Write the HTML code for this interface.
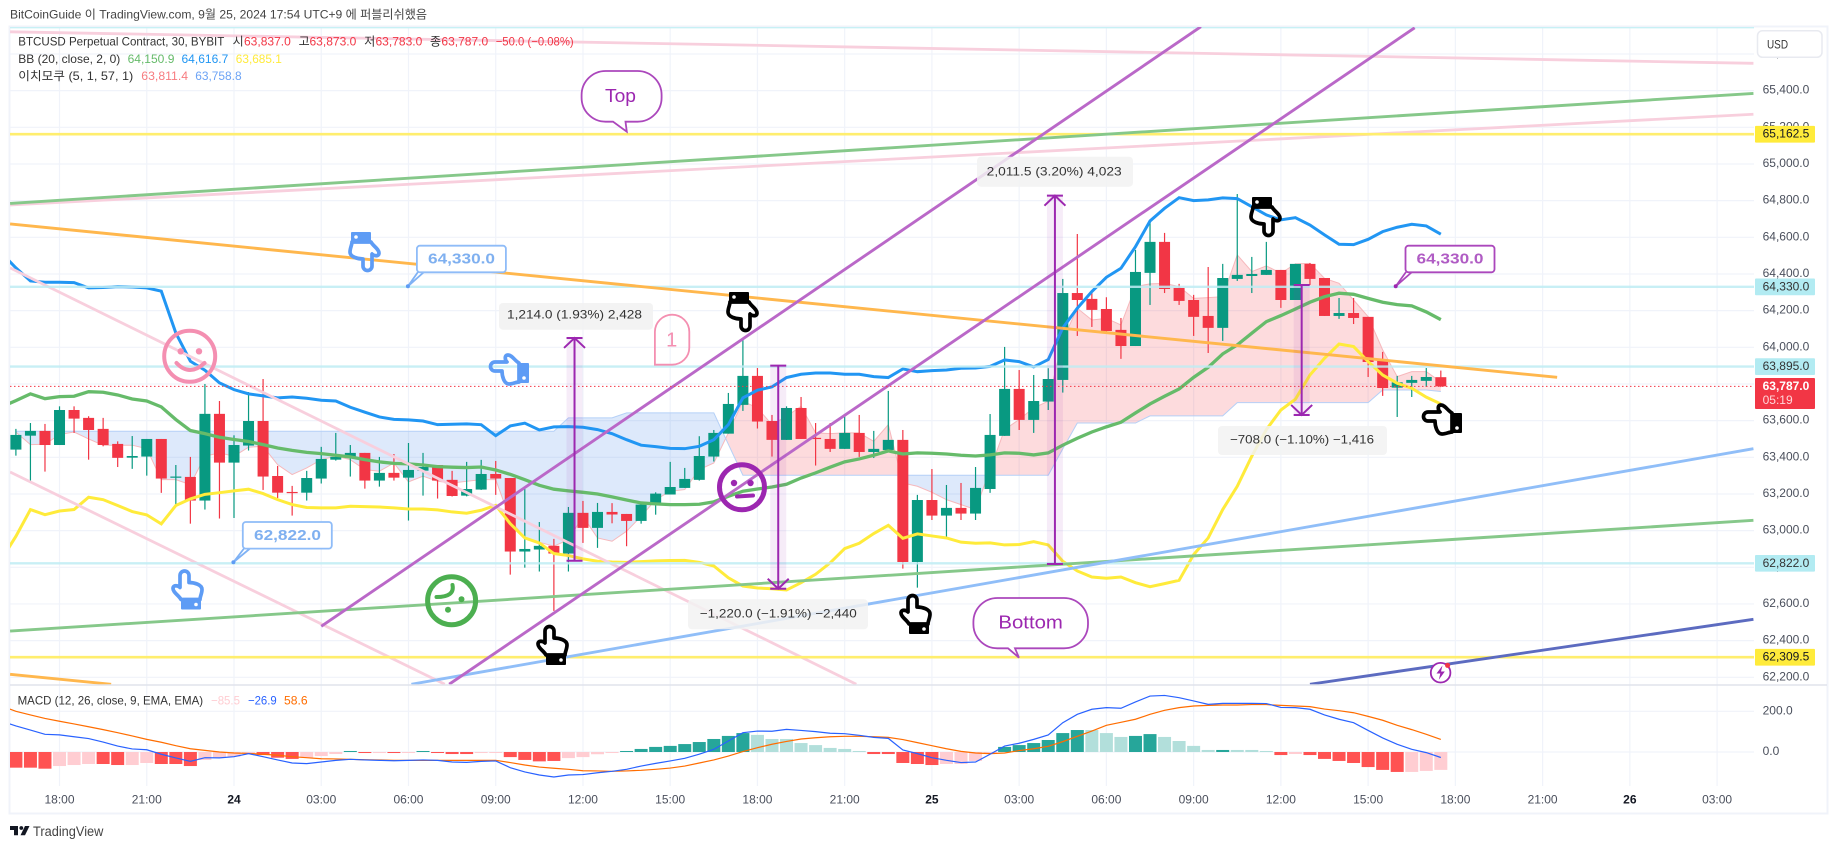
<!DOCTYPE html>
<html lang="ko">
<head>
<meta charset="utf-8">
<title>BTCUSD chart</title>
<style>
html,body{margin:0;padding:0;background:#fff;width:1835px;height:849px;overflow:hidden}
svg{display:block}
text{font-family:"Liberation Sans","Noto Sans CJK KR",sans-serif;font-size:12px;dominant-baseline:central}
.hand{fill:none;stroke-width:3.7;stroke-linejoin:round;stroke-linecap:round}
</style>
</head>
<body>
<svg id="chart" width="1835" height="849" viewBox="0 0 1835 849" xmlns="http://www.w3.org/2000/svg">
<defs>
<clipPath id="mainClip"><rect x="10" y="27" width="1744" height="657.5"/></clipPath>
<clipPath id="macdClip"><rect x="10" y="686" width="1744" height="100"/></clipPath>
</defs>
<rect x="9.5" y="26.5" width="1818" height="787" fill="#fff" stroke="#F0F3FA" stroke-width="2"/>
<g id="grid"></g>
<g clip-path="url(#mainClip)">
<g id="cloud"></g>
<g id="candles"></g>
<g id="bands"></g>
<g id="drawings"></g>
<g id="measures"></g>
</g>
<g clip-path="url(#macdClip)"><g id="macd"></g></g>
<line x1="10" x2="1827" y1="685" y2="685" stroke="#E0E3EB" stroke-width="1.5"/>

<g>
<rect x="499" y="303" width="154" height="26.7" rx="4" fill="#f2f2f2" fill-opacity=".9"/>
<text x="507" y="314.7" fill="#333" textLength="135" lengthAdjust="spacingAndGlyphs">1,214.0 (1.93%) 2,428</text>
</g>
<g>
<rect x="688" y="599.3" width="180" height="30" rx="4" fill="#f2f2f2" fill-opacity=".85"/>
<text x="699.8" y="613.3" fill="#333" textLength="157" lengthAdjust="spacingAndGlyphs">−1,220.0 (−1.91%) −2,440</text>
</g>
<g>
<rect x="977" y="156.7" width="156" height="30" rx="4" fill="#f2f2f2" fill-opacity=".85"/>
<text x="986.7" y="171.7" fill="#333" textLength="135" lengthAdjust="spacingAndGlyphs">2,011.5 (3.20%) 4,023</text>
</g>
<g>
<rect x="1218" y="426" width="169" height="29" rx="4" fill="#f2f2f2" fill-opacity=".85"/>
<text x="1230" y="439.7" fill="#333" textLength="144" lengthAdjust="spacingAndGlyphs">−708.0 (−1.10%) −1,416</text>
</g>

<g>
<path d="M605.6 71H637.6A24 24 0 0 1 661.6 95V97.7A24 24 0 0 1 637.6 121.7H625.5L626.8 131.7L613 121.7H605.6A24 24 0 0 1 581.6 97.7V95A24 24 0 0 1 605.6 71Z" fill="#fff" stroke="#AB47BC" stroke-width="1.8"/>
<text x="605" y="96" fill="#9C27B0" style="font-size:18px" textLength="31" lengthAdjust="spacingAndGlyphs">Top</text>
</g>
<g>
<path d="M997.4 598H1064A24 24 0 0 1 1088 622V624.3A24 24 0 0 1 1064 648.3H1015L1019 657.7L1008 648.3H997.4A24 24 0 0 1 973.4 624.3V622A24 24 0 0 1 997.4 598Z" fill="#fff" stroke="#AB47BC" stroke-width="1.8"/>
<text x="998.4" y="622.7" fill="#9C27B0" style="font-size:18px" textLength="64.5" lengthAdjust="spacingAndGlyphs">Bottom</text>
</g>

<g>
<path d="M424 272L407.9 286.3L418 272" fill="#fff" stroke="#7FB2F5" stroke-width="1.8"/>
<circle cx="407.9" cy="286.3" r="2" fill="#5E9CF5"/>
<rect x="416.9" y="245.7" width="89" height="26.6" rx="3" fill="#fff" stroke="#8FBCF8" stroke-width="1.8"/>
<text x="428" y="259" fill="#7FB0F0" style="font-size:15px;font-weight:bold" textLength="67" lengthAdjust="spacingAndGlyphs">64,330.0</text>
</g>
<g>
<path d="M250 548.5L233.4 562.3L244 548.5" fill="#fff" stroke="#7FB2F5" stroke-width="1.8"/>
<circle cx="233.4" cy="562.3" r="2" fill="#5E9CF5"/>
<rect x="242.8" y="522" width="89" height="26.6" rx="3" fill="#fff" stroke="#8FBCF8" stroke-width="1.8"/>
<text x="254" y="535.3" fill="#7FB0F0" style="font-size:15px;font-weight:bold" textLength="67" lengthAdjust="spacingAndGlyphs">62,822.0</text>
</g>
<g>
<path d="M1412 272L1395.7 286.3L1406 272" fill="#fff" stroke="#AB47BC" stroke-width="1.8"/>
<circle cx="1395.7" cy="286.3" r="2" fill="#9C27B0"/>
<rect x="1405.5" y="245.7" width="89" height="26.6" rx="3" fill="#fff" stroke="#AB47BC" stroke-width="1.8"/>
<text x="1416.5" y="259" fill="#B05CC4" style="font-size:15px;font-weight:bold" textLength="67" lengthAdjust="spacingAndGlyphs">64,330.0</text>
</g>

<g>
<path d="M654.9 364.7V331.9A17.2 17.2 0 0 1 689.3 331.9V347.5A17.2 17.2 0 0 1 672.1 364.7Z" fill="none" stroke="#F48FB1" stroke-width="1.8"/>
<text x="671.7" y="340.3" text-anchor="middle" fill="#F48FB1" style="font-size:20px">1</text>
</g>

<g fill="none" stroke="#F48FB1">
<circle cx="189.7" cy="356.3" r="25.5" stroke-width="4"/>
<circle cx="180.7" cy="351.3" r="3.2" fill="#F48FB1" stroke="none"/>
<circle cx="199" cy="351.3" r="3.2" fill="#F48FB1" stroke="none"/>
<path d="M176.5 363Q189.7 377 204.5 363" stroke-width="4" stroke-linecap="round"/>
</g>
<g fill="none" stroke="#9C27B0">
<circle cx="742" cy="487.3" r="22.5" stroke-width="5"/>
<circle cx="734" cy="483" r="3.2" fill="#9C27B0" stroke="none"/>
<circle cx="750.5" cy="483" r="3.2" fill="#9C27B0" stroke="none"/>
<path d="M737 496.5L753 495.5" stroke-width="4" stroke-linecap="round"/>
</g>
<g fill="none" stroke="#4CAF50">
<circle cx="451.6" cy="600.7" r="24" stroke-width="5"/>
<path d="M436.5 597Q455 597 452.5 585" stroke-width="4" stroke-linecap="round"/>
<circle cx="461.5" cy="599.3" r="3" fill="#4CAF50" stroke="none"/>
<circle cx="448" cy="609.7" r="3" fill="#4CAF50" stroke="none"/>
</g>

<g transform="translate(188,590.5)">
<path class="hand" stroke="#5E9CF5" d="M-7 9C-9 5-15 2-15-2C-15-6-10-5-8-3L-8-15A4.5 4.5 0 0 1 1-15L1-8C6-8 14-6 14-1C14 3 12 6 12 9Z"/><rect x="-7" y="9" width="20" height="10" rx="1" fill="#5E9CF5"/><circle cx="8" cy="14" r="1.8" fill="#fff"/>
</g>
<g transform="translate(553,646)">
<path class="hand" stroke="#000" d="M-7 9C-9 5-15 2-15-2C-15-6-10-5-8-3L-8-15A4.5 4.5 0 0 1 1-15L1-8C6-8 14-6 14-1C14 3 12 6 12 9Z"/><rect x="-7" y="9" width="20" height="10" rx="1" fill="#000"/><circle cx="8" cy="14" r="1.8" fill="#fff"/>
</g>
<g transform="translate(916,615)">
<path class="hand" stroke="#000" d="M-7 9C-9 5-15 2-15-2C-15-6-10-5-8-3L-8-15A4.5 4.5 0 0 1 1-15L1-8C6-8 14-6 14-1C14 3 12 6 12 9Z"/><rect x="-7" y="9" width="20" height="10" rx="1" fill="#000"/><circle cx="8" cy="14" r="1.8" fill="#fff"/>
</g>
<g transform="translate(364,251) rotate(180)">
<path class="hand" stroke="#5E9CF5" d="M-7 9C-9 5-15 2-15-2C-15-6-10-5-8-3L-8-15A4.5 4.5 0 0 1 1-15L1-8C6-8 14-6 14-1C14 3 12 6 12 9Z"/><rect x="-7" y="9" width="20" height="10" rx="1" fill="#5E9CF5"/><circle cx="8" cy="14" r="1.8" fill="#fff"/>
</g>
<g transform="translate(742,311) rotate(180)">
<path class="hand" stroke="#000" d="M-7 9C-9 5-15 2-15-2C-15-6-10-5-8-3L-8-15A4.5 4.5 0 0 1 1-15L1-8C6-8 14-6 14-1C14 3 12 6 12 9Z"/><rect x="-7" y="9" width="20" height="10" rx="1" fill="#000"/><circle cx="8" cy="14" r="1.8" fill="#fff"/>
</g>
<g transform="translate(1265,216) rotate(180)">
<path class="hand" stroke="#000" d="M-7 9C-9 5-15 2-15-2C-15-6-10-5-8-3L-8-15A4.5 4.5 0 0 1 1-15L1-8C6-8 14-6 14-1C14 3 12 6 12 9Z"/><rect x="-7" y="9" width="20" height="10" rx="1" fill="#000"/><circle cx="8" cy="14" r="1.8" fill="#fff"/>
</g>
<g transform="translate(510,370) rotate(-90) scale(-1,1)">
<path class="hand" stroke="#5E9CF5" d="M-7 9C-9 5-15 2-15-2C-15-6-10-5-8-3L-8-15A4.5 4.5 0 0 1 1-15L1-8C6-8 14-6 14-1C14 3 12 6 12 9Z"/><rect x="-7" y="9" width="20" height="10" rx="1" fill="#5E9CF5"/><circle cx="8" cy="14" r="1.8" fill="#fff"/>
</g>
<g transform="translate(1443,420) rotate(-90) scale(-1,1)">
<path class="hand" stroke="#000" d="M-7 9C-9 5-15 2-15-2C-15-6-10-5-8-3L-8-15A4.5 4.5 0 0 1 1-15L1-8C6-8 14-6 14-1C14 3 12 6 12 9Z"/><rect x="-7" y="9" width="20" height="10" rx="1" fill="#000"/><circle cx="8" cy="14" r="1.8" fill="#fff"/>
</g>

<g>
<circle cx="1440.6" cy="672.7" r="9.8" fill="#fff" stroke="#9C27B0" stroke-width="1.8"/>
<path d="M1442.5 665.5L1436.5 673.5H1440.3L1438.8 679.8L1444.8 671.5H1441Z" fill="#9C27B0"/>
<circle cx="1447.6" cy="665.3" r="2.6" fill="#F23645"/>
</g>

<g id="axes"></g>

<g>
<rect x="1757.5" y="30.7" width="64.5" height="26.6" rx="5" fill="#fff" stroke="#E8EAF0" stroke-width="1.5"/>
<text x="1767" y="44.3" fill="#333" textLength="21" lengthAdjust="spacingAndGlyphs">USD</text>
</g>

<text x="10" y="14.3" fill="#444" textLength="417" lengthAdjust="spacingAndGlyphs">BitCoinGuide 이 TradingView.com, 9월 25, 2024 17:54 UTC+9 에 퍼블리쉬했음</text>

<g>
<text x="18.3" y="41.7" fill="#333" textLength="206" lengthAdjust="spacingAndGlyphs">BTCUSD Perpetual Contract, 30, BYBIT</text>
<text x="232.6" y="41.7" fill="#333">시</text><text x="244" y="41.7" fill="#F23645" textLength="46.8" lengthAdjust="spacingAndGlyphs">63,837.0</text>
<text x="298.6" y="41.7" fill="#333">고</text><text x="309.5" y="41.7" fill="#F23645" textLength="46.8" lengthAdjust="spacingAndGlyphs">63,873.0</text>
<text x="364.2" y="41.7" fill="#333">저</text><text x="375.5" y="41.7" fill="#F23645" textLength="46.8" lengthAdjust="spacingAndGlyphs">63,783.0</text>
<text x="430" y="41.7" fill="#333">종</text><text x="441.4" y="41.7" fill="#F23645" textLength="46.8" lengthAdjust="spacingAndGlyphs">63,787.0</text>
<text x="495.7" y="41.7" fill="#F23645" textLength="78" lengthAdjust="spacingAndGlyphs">−50.0 (−0.08%)</text>
</g>
<g>
<text x="18.3" y="59" fill="#333" textLength="102" lengthAdjust="spacingAndGlyphs">BB (20, close, 2, 0)</text>
<text x="127.6" y="59" fill="#66BB6A" textLength="46.8" lengthAdjust="spacingAndGlyphs">64,150.9</text>
<text x="181.5" y="59" fill="#2196F3" textLength="46.8" lengthAdjust="spacingAndGlyphs">64,616.7</text>
<text x="235.8" y="59" fill="#FFEB3B" textLength="46" lengthAdjust="spacingAndGlyphs">63,685.1</text>
</g>
<g>
<text x="18.3" y="76" fill="#333" textLength="115" lengthAdjust="spacingAndGlyphs">이치모쿠 (5, 1, 57, 1)</text>
<text x="141.3" y="76" fill="#F77C80" textLength="46.8" lengthAdjust="spacingAndGlyphs">63,811.4</text>
<text x="195.2" y="76" fill="#6CA3F5" textLength="46.4" lengthAdjust="spacingAndGlyphs">63,758.8</text>
</g>
<g>
<text x="17.6" y="700.7" fill="#333" textLength="185.5" lengthAdjust="spacingAndGlyphs">MACD (12, 26, close, 9, EMA, EMA)</text>
<text x="211" y="700.7" fill="#FFCDD2" textLength="29" lengthAdjust="spacingAndGlyphs">−85.5</text>
<text x="248" y="700.7" fill="#2962FF" textLength="28.7" lengthAdjust="spacingAndGlyphs">−26.9</text>
<text x="284" y="700.7" fill="#FF6D00" textLength="23.6" lengthAdjust="spacingAndGlyphs">58.6</text>
</g>

<g>
<path d="M10 826H18V835.3H14V830H10Z" fill="#131722"/>
<circle cx="21.3" cy="828" r="1.9" fill="#131722"/>
<path d="M25 826H29.5L25 835.3H20.5Z" fill="#131722"/>
<text x="33" y="831.7" fill="#444" style="font-size:13.5px" textLength="70.4" lengthAdjust="spacingAndGlyphs">TradingView</text>
</g>
</svg>

<script>
const opens=[63442,63518,63544,63467,63658,63615,63555,63473,63398,63404,63500,63289,63293,63164,63637,63371,63464,63598,63298,63211,63207,63284,63387,63402,63424,63273,63315,63289,63327,63358,63277,63191,63224,63309,63287,62886,62897,62917,62875,63097,63015,63102,63091,63053,63142,63197,63233,63277,63404,63529,63686,63844,63598,63495,63669,63506,63500,63446,63533,63429,63440,63495,62829,63167,63082,63124,63093,63227,63517,63773,63604,63704,63822,64296,64264,64209,64095,64007,64406,64575,64324,64258,64171,64106,64373,64389,64395,64422,64258,64455,64378,64171,64187,64166,63926,63780,63806,63817,63837];
const highs=[63555,63587,63582,63678,63678,63624,63615,63487,63516,63500,63500,63358,63402,63800,63707,63520,63756,63827,63353,63244,63326,63457,63533,63467,63424,63402,63418,63478,63424,63358,63326,63375,63386,63380,63287,63227,63047,62955,63129,63162,63151,63150,63091,63142,63209,63375,63342,63515,63549,63751,64046,63887,63631,63678,63729,63587,63587,63636,63631,63544,63762,63549,63195,63336,63249,63260,63347,63636,64002,63876,63849,63886,64373,64618,64302,64273,64160,64531,64689,64624,64346,64286,64438,64455,64836,64493,64575,64422,64455,64460,64378,64269,64269,64166,63975,63844,63844,63887,63873];
const lows=[63409,63269,63322,63467,63533,63387,63460,63347,63337,63300,63206,63142,63038,63115,63066,63069,63437,63222,63178,63082,63164,63257,63382,63295,63229,63240,63273,63055,63191,63175,63186,63187,63222,63195,62760,62798,62777,62562,62777,62933,62906,63040,62915,63038,63087,63197,63233,63273,63377,63529,63653,63557,63404,63495,63500,63355,63429,63446,63402,63396,63440,62793,62689,63058,62960,63058,63058,63206,63517,63549,63533,63658,63753,64062,64111,64077,63937,64007,64231,64296,64231,64062,63969,64035,64362,64296,64395,64215,64258,64340,64171,64155,64127,63838,63735,63620,63729,63784,63783];
const closes=[63522,63544,63467,63658,63611,63549,63467,63397,63407,63500,63284,63295,63164,63637,63371,63467,63598,63295,63207,63206,63287,63391,63402,63424,63273,63315,63289,63331,63347,63273,63189,63227,63309,63284,62886,62900,62917,62875,63097,63015,63102,63088,63053,63142,63202,63238,63282,63407,63533,63691,63844,63595,63495,63669,63500,63500,63446,63533,63429,63446,63495,62829,63167,63082,63124,63093,63233,63522,63773,63604,63707,63827,64296,64258,64204,64089,64007,64411,64575,64318,64253,64166,64106,64378,64395,64400,64422,64258,64455,64373,64171,64187,64160,63920,63778,63809,63822,63838,63787];
/* Bollinger series start one bar before the first visible candle */
const bbBasis=[63675,63709,63746,63720,63731,63733,63758,63755,63740,63718,63707,63675,63606,63546,63529,63509,63497,63486,63469,63451,63438,63427,63420,63411,63402,63387,63375,63367,63364,63358,63349,63346,63344,63347,63331,63307,63278,63247,63226,63217,63209,63200,63184,63167,63151,63146,63142,63142,63144,63157,63187,63215,63227,63238,63253,63287,63315,63346,63375,63391,63411,63435,63418,63424,63422,63418,63411,63407,63413,63424,63422,63413,63424,63466,63504,63538,63566,63591,63642,63691,63733,63773,63836,63891,63964,64013,64077,64140,64173,64209,64246,64276,64295,64289,64267,64246,64233,64226,64193,64151];
const bbUpper=[64515,64433,64362,64355,64355,64353,64324,64326,64331,64329,64324,64306,64078,63924,63875,63806,63769,63746,63735,63724,63729,63722,63711,63707,63673,63646,63620,63607,63604,63598,63578,63580,63582,63578,63518,63571,63586,63549,63566,63567,63564,63551,63529,63496,63466,63458,63449,63447,63460,63496,63578,63724,63766,63784,63835,63853,63860,63860,63853,63853,63840,63835,63882,63867,63873,63876,63886,63887,63896,63931,63922,63893,63933,64106,64213,64304,64382,64431,64549,64689,64758,64816,64800,64804,64815,64811,64767,64722,64695,64707,64667,64613,64562,64560,64589,64631,64655,64671,64662,64617];
const bbLower=[62842,62969,63115,63087,63107,63115,63182,63169,63137,63104,63086,63037,63137,63173,63198,63207,63217,63226,63202,63169,63142,63126,63124,63124,63133,63131,63129,63124,63118,63118,63113,63102,63095,63111,63138,63038,62960,62933,62875,62864,62846,62833,62829,62827,62831,62835,62837,62838,62827,62807,62743,62698,62687,62683,62676,62716,62762,62824,62902,62931,62984,63029,62958,62982,62971,62960,62937,62931,62933,62922,62924,62940,62922,62833,62780,62747,62740,62747,62716,62694,62711,62729,62869,62960,63115,63242,63406,63551,63658,63717,63849,63940,64018,64004,63922,63849,63804,63777,63728,63691];
const leadA=[63537,63469,63471,63524,63538,63500,63466,63466,63466,63447,63278,63278,63251,63406,63424,63406,63455,63460,63360,63306,63342,63387,63406,63387,63333,63324,63369,63266,63297,63269,63260,63269,63278,63278,63060,62960,62937,62915,62951,63078,62960,62942,62997,63078,63169,63215,63224,63333,63369,63533,63706,63669,63578,63624,63678,63533,63529,63533,63533,63487,63578,63260,63242,63209,63169,63142,63115,63333,63551,63606,63669,63706,64040,64213,64149,64158,64122,64331,64346,64349,64331,64267,64271,64276,64504,64413,64444,64404,64455,64458,64376,64349,64258,64167,63986,63840,63867,63867,63811];
const leadB=[63542,63542,63542,63542,63542,63542,63542,63542,63542,63542,63542,63542,63542,63542,63542,63542,63542,63542,63542,63542,63542,63542,63542,63542,63542,63542,63542,63542,63542,63542,63542,63542,63542,63542,63542,63542,63542,63542,63615,63615,63615,63615,63642,63642,63642,63642,63642,63642,63642,63471,63302,63302,63302,63302,63302,63302,63302,63302,63302,63302,63302,63302,63302,63302,63302,63302,63302,63302,63302,63302,63302,63302,63446,63587,63587,63587,63587,63587,63626,63626,63626,63626,63626,63626,63698,63698,63698,63698,63698,63698,63698,63698,63698,63698,63767,63767,63767,63767,63759];
const macdHist=[-77,-77,-82,-69,-64,-59,-59,-64,-64,-54,-59,-59,-69,-39,-28,-23,-5,-15,-28,-34,-28,-20,-10,5,-5,-5,-5,-3,5,-5,-10,-10,-5,-3,-25,-39,-46,-44,-30,-25,-11,-5,5,15,25,30,39,49,64,79,93,84,64,64,44,34,20,15,5,-10,-10,-54,-59,-64,-59,-59,-44,-10,25,34,44,59,93,108,108,93,74,79,88,74,54,30,10,10,10,10,5,-15,-10,-15,-34,-44,-54,-74,-88,-98,-98,-93,-88];
const macdHistPale=[0,0,0,1,1,1,0,0,1,1,0,0,0,1,1,1,1,0,0,0,1,1,1,0,0,1,0,1,0,0,0,0,1,1,0,0,0,0,1,1,1,1,0,0,0,0,0,0,0,0,0,1,1,1,1,1,1,1,1,0,0,0,0,0,1,1,1,1,0,0,0,0,0,0,1,1,1,0,0,1,1,1,1,0,1,1,1,0,1,0,0,0,0,0,0,0,1,1,1];
/* MACD and signal series start one bar before the first visible candle */
const macdLine=[152,128,108,87,84,75,66,49,29,15,11,-11,-29,-46,-28,-29,-23,-8,-23,-39,-54,-57,-49,-41,-36,-39,-41,-43,-41,-39,-41,-49,-51,-46,-44,-77,-98,-113,-123,-113,-111,-102,-95,-85,-69,-56,-44,-31,-11,13,54,95,103,102,111,106,100,92,90,82,72,67,10,-8,-28,-41,-52,-49,-11,29,43,62,84,144,185,210,218,215,246,275,278,267,251,234,239,239,239,238,219,218,210,182,161,144,106,69,38,13,-3,-27];
const signalLine=[226,200,182,165,151,138,124,110,95,79,62,48,31,16,8,0,-5,-7,-11,-16,-23,-28,-33,-34,-36,-38,-39,-41,-41,-41,-41,-41,-41,-41,-41,-52,-64,-74,-80,-85,-92,-93,-95,-93,-90,-85,-79,-69,-54,-39,-20,2,21,38,52,64,70,75,77,77,75,72,61,46,31,16,3,-5,-8,-5,7,16,28,51,77,103,131,146,161,185,205,218,226,229,231,231,233,233,229,226,223,211,203,193,175,156,131,110,87,62];
const priceTicks=[65600,65400,65200,65000,64800,64600,64400,64200,64000,63800,63600,63400,63200,63000,62800,62600,62400,62200];
const macdTicks=[200,0];
const timeTickBars=[3,9,15,21,27,33,39,45,51,57,63,69,75,81,87,93,99,105,111,117];
const timeTickLabels=["18:00","21:00","24","03:00","06:00","09:00","12:00","15:00","18:00","21:00","25","03:00","06:00","09:00","12:00","15:00","18:00","21:00","26","03:00"];
const timeTickIsDay=[0,0,1,0,0,0,0,0,0,0,1,0,0,0,0,0,0,0,1,0];
const yellowLevels=[65162.5,62309.5];
const cyanLevels=[64330,63895,62822];
const topLevel=65745;
/* Trend lines: [bar index, price] endpoints */
const lineTopPink=[[-0.4,65721],[119.5,65549]];
const lineUpperGreen=[[-0.4,64785],[119.5,65385]];
const lineUpperPink=[[-0.4,64776],[119.5,65271]];
const lineOrange=[[-0.4,64673],[106,63836]];
const lineFallPink1=[[-0.4,64433],[57.8,62162]];
const lineFallPink2=[[-0.4,63320],[29.5,62162]];
const lineChannelLow=[[21,62478],[81.5,65749]];
const lineChannelHigh=[[29.8,62162],[96.2,65743]];
const lineLightBlue=[[27.2,62162],[119.5,63447]];
const lineLowerGreen=[[-0.4,62452],[119.5,63056]];
const lineDarkBlue=[[89,62162],[119.5,62516]];
const lineOrangeLow=[[-0.4,62216],[6.55,62162]];
/* Price-range tools: bar index, start price, end price */
const measureBars=[38.42,52.43,71.46,88.43];
const measureFrom=[62836,63900,62818,64340];
const measureTo=[64051,62683,64827,63631];

const NS='http://www.w3.org/2000/svg';
const xOf=i=>15.9+14.54*i;
const yOf=p=>347.3+(64000-p)*0.18333;
const yMacd=v=>752-v*0.2035;
function mk(parent,tag,attrs){const n=document.createElementNS(NS,tag);for(const k in attrs){n.setAttribute(k,attrs[k]);}parent.appendChild(n);return n;}
const gGrid=document.getElementById('grid'),gCloud=document.getElementById('cloud'),gCandles=document.getElementById('candles'),gBands=document.getElementById('bands'),gDraw=document.getElementById('drawings'),gMeas=document.getElementById('measures'),gMacd=document.getElementById('macd'),gAxes=document.getElementById('axes');
const fmt=v=>v.toLocaleString('en-US',{minimumFractionDigits:1,maximumFractionDigits:1});

priceTicks.forEach(p=>{
  const gl=mk(gGrid,'line',{x1:10,x2:1754,y1:yOf(p),y2:yOf(p),stroke:'#F0F3FA','stroke-width':1.2});
  
  
});
macdTicks.forEach(v=>{
  const gl=mk(gGrid,'line',{x1:10,x2:1754,y1:yMacd(v),y2:yMacd(v),stroke:'#F0F3FA','stroke-width':1.2});
  
  
});
timeTickBars.forEach(b=>{
  const gl=mk(gGrid,'line',{x1:xOf(b),x2:xOf(b),y1:27,y2:786,stroke:'#F0F3FA','stroke-width':1.2});
  
  
});

/* Ichimoku cloud built from continuous runs between crossings */
(function(){
  let runs=[],cur=null;
  function push(sign,x,a,b){
    if(!cur||cur.sign!==sign){if(cur){runs.push(cur);}cur={sign:sign,pts:[]};}
    cur.pts.push([x,a,b]);
  }
  for(let i=0;i<leadA.length;i++){
    const s=leadA[i]>=leadB[i]?1:-1;
    if(i>0){
      const sp=leadA[i-1]>=leadB[i-1]?1:-1;
      if(s!==sp){
        const d0=leadA[i-1]-leadB[i-1],d1=leadA[i]-leadB[i],t=d0/(d0-d1);
        const xc=xOf(i-1+t),pc=leadA[i-1]+(leadA[i]-leadA[i-1])*t;
        push(sp,xc,pc,pc);
        push(s,xc,pc,pc);
      }
    }
    push(s,xOf(i),leadA[i],leadB[i]);
  }
  runs.push(cur);
  runs.forEach(r=>{
    const top=r.pts.map(q=>q[0]+','+yOf(q[1]));
    const bot=r.pts.slice().reverse().map(q=>q[0]+','+yOf(q[2]));
    const poly=mk(gCloud,'polygon',{points:top.concat(bot).join(' '),fill:r.sign>0?'#F23645':'#2979E8','fill-opacity':r.sign>0?0.18:0.16});
    
    
  });
  const la=mk(gCloud,'polyline',{points:leadA.map((v,i)=>xOf(i)+','+yOf(v)).join(' '),fill:'none',stroke:'#F6B8BC','stroke-width':1});
  
  
  const lb=mk(gCloud,'polyline',{points:leadB.map((v,i)=>xOf(i)+','+yOf(v)).join(' '),fill:'none',stroke:'#B5D0F7','stroke-width':1});
  
  
})();

opens.forEach((o,i)=>{
  const c=closes[i],up=c>=o,col=up?'#089981':'#F23645',x=xOf(i);
  const wick=mk(gCandles,'rect',{x:x-0.6,width:1.2,y:yOf(highs[i]),height:yOf(lows[i])-yOf(highs[i]),fill:col});
  
  
  const topY=yOf(Math.max(o,c));
  const body=mk(gCandles,'rect',{x:x-5.5,width:11,y:topY,height:Math.max(yOf(Math.min(o,c))-topY,1.2),fill:col});
  
  
});

const bbBasisLine=mk(gBands,'polyline',{points:bbBasis.map((v,i)=>xOf(i-1)+','+yOf(v)).join(' '),fill:'none',stroke:'#66BB6A','stroke-width':3.3});


const bbUpperLine=mk(gBands,'polyline',{points:bbUpper.map((v,i)=>xOf(i-1)+','+yOf(v)).join(' '),fill:'none',stroke:'#2196F3','stroke-width':3});


const bbLowerLine=mk(gBands,'polyline',{points:bbLower.map((v,i)=>xOf(i-1)+','+yOf(v)).join(' '),fill:'none',stroke:'#FFEB3B','stroke-width':3});



function trend(pts,col,w){
  return mk(gDraw,'line',{x1:xOf(pts[0][0]),y1:yOf(pts[0][1]),x2:xOf(pts[1][0]),y2:yOf(pts[1][1]),stroke:col,'stroke-width':w});
}
const hTop=mk(gDraw,'line',{x1:10,x2:1754,y1:yOf(topLevel),y2:yOf(topLevel),stroke:'#C8F0F5','stroke-width':2});


const t1=trend(lineTopPink,'#F8CFDD',2.8);


const t3=trend(lineUpperPink,'#F8CFDD',2.8);


const t5=trend(lineFallPink1,'#F8CFDD',2.8);


const t6=trend(lineFallPink2,'#F8CFDD',2.8);


yellowLevels.forEach(p=>{
  const l=mk(gDraw,'line',{x1:10,x2:1754,y1:yOf(p),y2:yOf(p),stroke:'#FFEE6E','stroke-width':2.6});
  
  
});
cyanLevels.forEach(p=>{
  const l=mk(gDraw,'line',{x1:10,x2:1754,y1:yOf(p),y2:yOf(p),stroke:'#BEECF3','stroke-opacity':.85,'stroke-width':2.4});
  
  
});
const t2=trend(lineUpperGreen,'#86C88A',2.9);


const t10=trend(lineLowerGreen,'#86C88A',2.9);


const t9=trend(lineLightBlue,'#90BEF8',2.9);


const t11=trend(lineDarkBlue,'#5C6BC0',2.9);


const t4=trend(lineOrange,'#FFB74D',2.9);


const t12=trend(lineOrangeLow,'#FFB74D',2.9);


const t7=trend(lineChannelLow,'#BA68C8',2.9);


const t8=trend(lineChannelHigh,'#BA68C8',2.9);



const lastLine=mk(gDraw,'line',{x1:10,x2:1754,y1:yOf(closes[closes.length-1]),y2:yOf(closes[closes.length-1]),stroke:'#F23645','stroke-width':1,'stroke-dasharray':'1.5 2.5'});



measureBars.forEach((b,k)=>{
  const x=xOf(b),yF=yOf(measureFrom[k]),yT=yOf(measureTo[k]),dir=yT<yF?1:-1,top=Math.min(yF,yT),h=Math.abs(yF-yT);
  const band=mk(gMeas,'rect',{x:x-8,y:top,width:16,height:h,fill:'#9C27B0','fill-opacity':.09});
  
  
  const stem=mk(gMeas,'line',{x1:x,x2:x,y1:yF,y2:yT,stroke:'#9C27B0','stroke-width':2});
  
  
  const capA=mk(gMeas,'line',{x1:x-8,x2:x+8,y1:yF,y2:yF,stroke:'#9C27B0','stroke-width':2});
  
  
  const capB=mk(gMeas,'line',{x1:x-8,x2:x+8,y1:yT,y2:yT,stroke:'#9C27B0','stroke-width':2});
  
  
  const head=mk(gMeas,'polyline',{points:(x-10.5)+','+(yT+10*dir)+' '+x+','+yT+' '+(x+10.5)+','+(yT+10*dir),fill:'none',stroke:'#9C27B0','stroke-width':2});
  
  
});

macdHist.forEach((v,i)=>{
  const pale=macdHistPale[i],col=v>=0?(pale?'#B2DFDB':'#26A69A'):(pale?'#FFCDD2':'#FF5252');
  const y0=yMacd(0),y1=yMacd(v);
  const bar=mk(gMacd,'rect',{x:xOf(i)-6.5,width:13,y:Math.min(y0,y1),height:Math.max(Math.abs(y1-y0),1),fill:col});
  
  
});
const sigLine=mk(gMacd,'polyline',{points:signalLine.map((v,i)=>xOf(i-1)+','+yMacd(v)).join(' '),fill:'none',stroke:'#FF6D00','stroke-width':1.2});


const mLine=mk(gMacd,'polyline',{points:macdLine.map((v,i)=>xOf(i-1)+','+yMacd(v)).join(' '),fill:'none',stroke:'#2962FF','stroke-width':1.2});



priceTicks.forEach(p=>{
  const t=mk(gAxes,'text',{x:1762.6,y:yOf(p)-1,fill:'#4a4f5c'});
  t.textContent=fmt(p);
  
  
});
macdTicks.forEach(v=>{
  const t=mk(gAxes,'text',{x:1762.6,y:yMacd(v)-1,fill:'#4a4f5c'});
  t.textContent=fmt(v);
  
  
});
timeTickBars.forEach((b,k)=>{
  const t=mk(gAxes,'text',{x:xOf(b),y:799.7,'text-anchor':'middle',fill:timeTickIsDay[k]?'#131722':'#4a4f5c','font-weight':timeTickIsDay[k]?'bold':'normal'});
  t.textContent=timeTickLabels[k];
  
  
});
yellowLevels.forEach(p=>{
  const r=mk(gAxes,'rect',{x:1755,y:yOf(p)-8.3,width:60,height:16.7,fill:'#FFEB3B',rx:1});
  
  
  const t=mk(gAxes,'text',{x:1762.6,y:yOf(p)-0.5,fill:'#131722'});
  t.textContent=fmt(p);
  
  
});
cyanLevels.forEach(p=>{
  const r=mk(gAxes,'rect',{x:1755,y:yOf(p)-8.3,width:60,height:16.7,fill:'#B2EBF2',rx:1});
  
  
  const t=mk(gAxes,'text',{x:1762.6,y:yOf(p)-0.5,fill:'#333'});
  t.textContent=fmt(p);
  
  
});
const lastClose=closes[closes.length-1];
const lastY=yOf(lastClose);
const lastBox=mk(gAxes,'rect',{x:1755,y:lastY-8.3,width:60,height:31,fill:'#F23645',rx:1});


const lastTxt=mk(gAxes,'text',{x:1762.6,y:lastY-0.3,fill:'#fff','font-weight':'bold'});
lastTxt.textContent=fmt(lastClose);


const countdown=mk(gAxes,'text',{x:1762.6,y:lastY+13.5,fill:'#FFD5D8'});
countdown.textContent='05:19';


</script>
</body>
</html>
